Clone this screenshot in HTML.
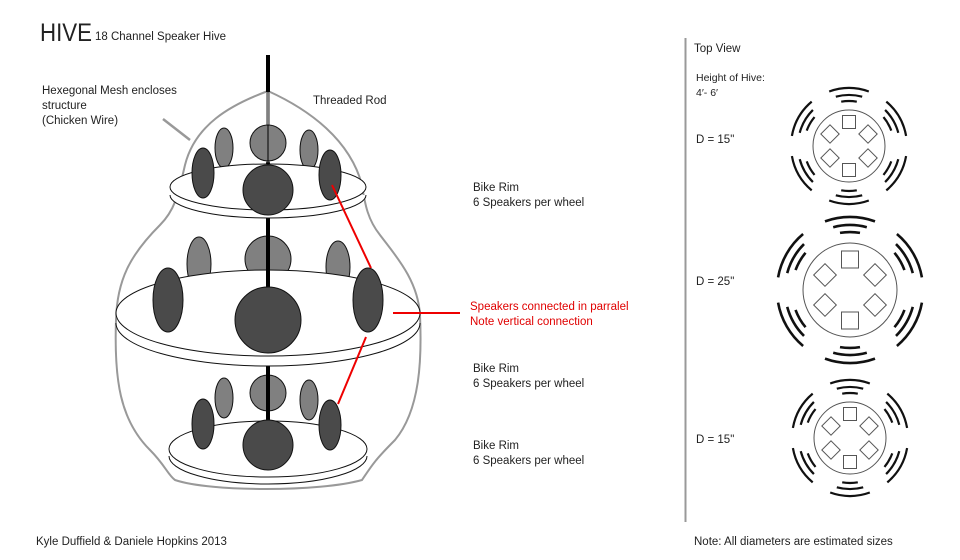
<!DOCTYPE html>
<html><head><meta charset="utf-8"><style>
html,body{margin:0;padding:0;background:#fff}
svg{display:block}
text{font-family:"Liberation Sans",sans-serif;fill:#222}
</style></head><body>
<svg width="960" height="560" viewBox="0 0 960 560" xmlns="http://www.w3.org/2000/svg">
<defs>
<g id="arcS" fill="none" stroke="#111" stroke-width="2.2">
 <path d="M -7.8 -44.3 A 45 45 0 0 1 7.8 -44.3"/>
 <path d="M -13.2 -49.3 A 51 51 0 0 1 13.2 -49.3"/>
 <path d="M -19.8 -54.5 A 58 58 0 0 1 19.8 -54.5"/>
</g>
<g id="arcL" fill="none" stroke="#111" stroke-width="2.6">
 <path d="M -10 -57.1 A 58 58 0 0 1 10 -57.1"/>
 <path d="M -16.8 -62.8 A 65 65 0 0 1 16.8 -62.8"/>
 <path d="M -25 -68.6 A 73 73 0 0 1 25 -68.6"/>
</g>
<g id="small">
 <circle r="36" fill="#fff" stroke="#555" stroke-width="1"/>
 <rect x="-6.5" y="-30.5" width="13" height="13" fill="#fff" stroke="#555"/>
 <rect x="-6.5" y="17.5" width="13" height="13" fill="#fff" stroke="#555"/>
 <rect x="-6.5" y="-6.5" width="13" height="13" fill="#fff" stroke="#555" transform="translate(-19,-12) rotate(45)"/>
 <rect x="-6.5" y="-6.5" width="13" height="13" fill="#fff" stroke="#555" transform="translate(19,-12) rotate(45)"/>
 <rect x="-6.5" y="-6.5" width="13" height="13" fill="#fff" stroke="#555" transform="translate(-19,12) rotate(45)"/>
 <rect x="-6.5" y="-6.5" width="13" height="13" fill="#fff" stroke="#555" transform="translate(19,12) rotate(45)"/>
 <use href="#arcS"/><use href="#arcS" transform="rotate(60)"/><use href="#arcS" transform="rotate(120)"/>
 <use href="#arcS" transform="rotate(180)"/><use href="#arcS" transform="rotate(240)"/><use href="#arcS" transform="rotate(300)"/>
</g>
</defs>

<!-- Titles -->
<text x="40" y="41" font-size="25" fill="#111" textLength="52" lengthAdjust="spacingAndGlyphs">HIVE</text>
<text x="95" y="40" font-size="11.5">18 Channel Speaker Hive</text>
<text x="42" y="94" font-size="11.5">Hexegonal Mesh encloses</text>
<text x="42" y="109" font-size="11.5">structure</text>
<text x="42" y="124" font-size="11.5">(Chicken Wire)</text>
<text x="313" y="104" font-size="11.5">Threaded Rod</text>
<text x="473" y="191" font-size="11.5">Bike Rim</text>
<text x="473" y="206" font-size="11.5">6 Speakers per wheel</text>
<text x="470" y="310" font-size="11.5" style="fill:#e00000">Speakers connected in parralel</text>
<text x="470" y="325" font-size="11.5" style="fill:#e00000">Note vertical connection</text>
<text x="473" y="372" font-size="11.5">Bike Rim</text>
<text x="473" y="387" font-size="11.5">6 Speakers per wheel</text>
<text x="473" y="449" font-size="11.5">Bike Rim</text>
<text x="473" y="464" font-size="11.5">6 Speakers per wheel</text>
<text x="36" y="545" font-size="11.5">Kyle Duffield &amp; Daniele Hopkins 2013</text>
<text x="694" y="545" font-size="11.5">Note: All diameters are estimated sizes</text>

<!-- Right panel -->
<line x1="685.5" y1="38" x2="685.5" y2="522" stroke="#999" stroke-width="2"/>
<text x="694" y="52" font-size="11.5">Top View</text>
<text x="696" y="81" font-size="10.5">Height of Hive:</text>
<text x="696" y="96" font-size="10.5">4′- 6′</text>
<text x="696" y="143" font-size="11.5">D = 15"</text>
<text x="696" y="285" font-size="11.5">D = 25"</text>
<text x="696" y="443" font-size="11.5">D = 15"</text>
<use href="#small" transform="translate(849,146)"/>
<use href="#small" transform="translate(850,438)"/>
<g transform="translate(850,290)">
 <circle r="47" fill="#fff" stroke="#555"/>
 <rect x="-8.5" y="-39" width="17" height="17" fill="#fff" stroke="#555"/>
 <rect x="-8.5" y="22" width="17" height="17" fill="#fff" stroke="#555"/>
 <rect x="-8" y="-8" width="16" height="16" fill="#fff" stroke="#555" transform="translate(-25,-15) rotate(45)"/>
 <rect x="-8" y="-8" width="16" height="16" fill="#fff" stroke="#555" transform="translate(25,-15) rotate(45)"/>
 <rect x="-8" y="-8" width="16" height="16" fill="#fff" stroke="#555" transform="translate(-25,15) rotate(45)"/>
 <rect x="-8" y="-8" width="16" height="16" fill="#fff" stroke="#555" transform="translate(25,15) rotate(45)"/>
 <use href="#arcL"/><use href="#arcL" transform="rotate(60)"/><use href="#arcL" transform="rotate(120)"/>
 <use href="#arcL" transform="rotate(180)"/><use href="#arcL" transform="rotate(240)"/><use href="#arcL" transform="rotate(300)"/>
</g>

<!-- Hive outline -->
<path d="M 268 91 C 230 105 195 125 185 165 C 178 195 175 210 160 225 C 130 255 117 280 116 320 C 114 380 120 420 150 450 C 165 465 168 475 175 480 C 210 492 320 492 362 480 C 372 465 375 460 395 440 C 420 410 422 360 420 315 C 418 280 395 255 380 235 C 368 220 365 205 362 185 C 350 140 310 110 268 91 Z" fill="none" stroke="#999" stroke-width="2"/>
<line x1="163" y1="119" x2="190" y2="140" stroke="#999" stroke-width="2.5"/>

<!-- Rod -->
<line x1="268" y1="55" x2="268" y2="425" stroke="#000" stroke-width="4"/>
<rect x="266.5" y="92" width="3" height="70" fill="#fff" stroke="#999" stroke-width="0.8"/>

<!-- Top tier -->
<g stroke="#111" stroke-width="1">
<circle cx="268" cy="143" r="18" fill="#808080"/>
<ellipse cx="224" cy="148" rx="9" ry="20" fill="#808080"/>
<ellipse cx="309" cy="150" rx="9" ry="20" fill="#808080"/>
<path d="M 170 195 A 98 23 0 0 0 366 195" fill="#fff"/>
<ellipse cx="268" cy="187" rx="98" ry="23" fill="#fff"/>
<ellipse cx="203" cy="173" rx="11" ry="25" fill="#4a4a4a"/>
<ellipse cx="330" cy="175" rx="11" ry="25" fill="#4a4a4a"/>
<line x1="268" y1="55" x2="268" y2="92" stroke="#000" stroke-width="4"/>
<circle cx="268" cy="190" r="25" fill="#4a4a4a"/>
<line x1="268" y1="92" x2="268" y2="164" stroke="#000" stroke-width="1"/>
</g>

<!-- Middle tier -->
<g stroke="#111" stroke-width="1">
<circle cx="268" cy="259" r="23" fill="#808080"/>
<ellipse cx="199" cy="264" rx="12" ry="27" fill="#808080"/>
<ellipse cx="338" cy="267" rx="12" ry="26" fill="#808080"/>
<path d="M 116 323 A 152 43 0 0 0 420 323" fill="#fff"/>
<ellipse cx="268" cy="313" rx="152" ry="43" fill="#fff"/>
<line x1="268" y1="233" x2="268" y2="290" stroke="#000" stroke-width="4"/>
<ellipse cx="168" cy="300" rx="15" ry="32" fill="#4a4a4a"/>
<ellipse cx="368" cy="300" rx="15" ry="32" fill="#4a4a4a"/>
<circle cx="268" cy="320" r="33" fill="#4a4a4a"/>
</g>

<!-- Bottom tier -->
<g stroke="#111" stroke-width="1">
<circle cx="268" cy="393" r="18" fill="#808080"/>
<ellipse cx="224" cy="398" rx="9" ry="20" fill="#808080"/>
<ellipse cx="309" cy="400" rx="9" ry="20" fill="#808080"/>
<path d="M 169 456 A 99 28 0 0 0 367 456" fill="#fff"/>
<ellipse cx="268" cy="449" rx="99" ry="28" fill="#fff"/>
<line x1="268" y1="368" x2="268" y2="425" stroke="#000" stroke-width="4"/>
<ellipse cx="203" cy="424" rx="11" ry="25" fill="#4a4a4a"/>
<ellipse cx="330" cy="425" rx="11" ry="25" fill="#4a4a4a"/>
<circle cx="268" cy="445" r="25" fill="#4a4a4a"/>
</g>

<!-- Red connections -->
<g stroke="#ee0000" stroke-width="2">
<line x1="332" y1="185" x2="371" y2="268"/>
<line x1="366" y1="337" x2="338" y2="404"/>
<line x1="393" y1="313" x2="460" y2="313"/>
</g>
</svg>
</body></html>
